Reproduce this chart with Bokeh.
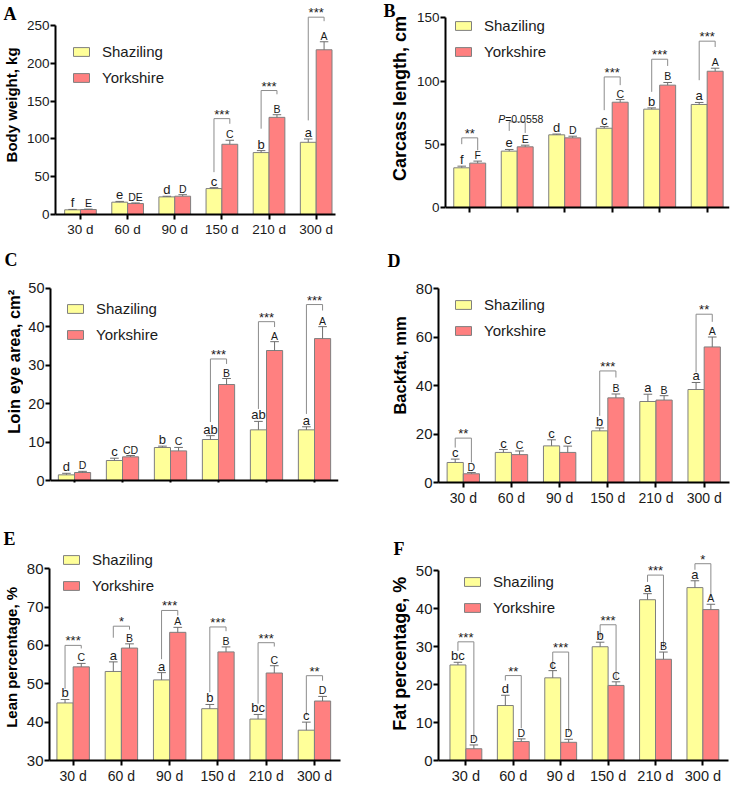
import numpy as np
from bokeh.plotting import figure
from bokeh.models import ColumnDataSource, FixedTicker, Label, LabelSet, Legend, LegendItem
from bokeh.layouts import column, row
from bokeh.core.properties import value
from bokeh.embed import file_html
from bokeh.resources import INLINE

ages = ["30 d", "60 d", "90 d", "150 d", "210 d", "300 d"]
breeds = ["Shaziling", "Yorkshire"]

# ---------------- A: Body weight, kg ----------------
a_sz = [6.2, 16.3, 23.3, 34.3, 81.9, 95.5]
a_sz_err = [0.5, 1.0, 0.8, 1.2, 2.6, 4.4]
a_yk = [6.6, 14.5, 24.2, 92.9, 128.5, 217.9]
a_yk_err = [0.5, 0.8, 2.0, 5.3, 3.5, 10.6]
a_sz_let = ["f", "e", "d", "c", "b", "a"]
a_yk_let = ["E", "DE", "D", "C", "B", "A"]
a_sig_idx = [3, 4, 5]
a_sig_top = [126.8, 164.0, 261.0]
a_sig_left = [56.0, 113.5, 124.5]
a_sig_right = [120.0, 159.0, 255.7]
a_sig_txt = ["***", "***", "***"]
a_yticks = [0, 50, 100, 150, 200, 250]

# ---------------- B: Carcass length, cm ----------------
b_sz = [31.4, 44.6, 57.5, 62.7, 77.8, 81.5]
b_sz_err = [1.3, 1.3, 0.6, 1.3, 1.0, 1.6]
b_yk = [35.1, 48.0, 55.1, 83.3, 96.8, 107.8]
b_yk_err = [1.6, 1.3, 1.3, 2.1, 2.1, 2.4]
b_sz_let = ["f", "e", "d", "c", "b", "a"]
b_yk_let = ["F", "E", "D", "C", "B", "A"]
b_sig_idx = [0, 1, 3, 4, 5]
b_sig_top = [55.1, 67.8, 103.3, 117.3, 131.6]
b_sig_left = [50.1, 60.6, 77.0, 91.5, 100.7]
b_sig_right = [45.3, 59.0, 96.8, 112.0, 127.0]
b_sig_txt = ["**", "P=0.0558", "***", "***", "***"]
b_yticks = [0, 50, 100, 150]

# ---------------- C: Loin eye area, cm2 ----------------
c_sz = [1.47, 5.2, 8.58, 10.66, 13.17, 13.17]
c_sz_err = [0.4, 0.6, 0.35, 1.0, 2.2, 0.8]
c_yk = [2.08, 6.15, 7.7, 24.96, 33.8, 36.9]
c_yk_err = [0.3, 0.35, 0.9, 1.56, 2.3, 3.1]
c_sz_let = ["d", "c", "b", "ab", "ab", "a"]
c_yk_let = ["D", "CD", "C", "B", "A", "A"]
c_sig_idx = [3, 4, 5]
c_sig_top = [31.6, 41.3, 45.75]
c_sig_left = [15.2, 18.6, 17.3]
c_sig_right = [30.3, 39.9, 44.2]
c_sig_txt = ["***", "***", "***"]
c_yticks = [0, 10, 20, 30, 40, 50]

# ---------------- D: Backfat, mm ----------------
d_sz = [8.25, 12.4, 15.1, 21.3, 33.4, 38.35]
d_sz_err = [1.4, 1.2, 2.5, 1.2, 3.0, 2.9]
d_yk = [3.6, 11.5, 12.4, 34.9, 34.0, 55.9]
d_yk_err = [0.5, 1.5, 2.6, 1.6, 1.8, 4.1]
d_sz_let = ["c", "c", "c", "b", "a", "a"]
d_yk_let = ["D", "C", "C", "B", "B", "A"]
d_sig_idx = [0, 3, 5]
d_sig_top = [18.3, 46.0, 69.4]
d_sig_left = [14.4, 27.5, 45.4]
d_sig_right = [8.25, 43.3, 66.25]
d_sig_txt = ["**", "***", "**"]
d_yticks = [0, 20, 40, 60, 80]

# ---------------- E: Lean percentage, % ----------------
e_sz = [45.0, 53.2, 51.0, 43.5, 40.8, 37.9]
e_sz_err = [0.9, 2.5, 1.9, 1.1, 1.2, 2.1]
e_yk = [54.4, 59.3, 63.4, 58.3, 52.8, 45.5]
e_yk_err = [0.9, 1.1, 1.3, 1.3, 1.9, 1.2]
e_sz_let = ["b", "a", "a", "b", "bc", "c"]
e_yk_let = ["C", "B", "A", "B", "C", "D"]
e_sig_idx = [0, 1, 2, 3, 4, 5]
e_sig_top = [60.0, 65.0, 69.1, 64.8, 60.7, 52.1]
e_sig_left = [48.7, 62.0, 56.4, 47.8, 44.8, 41.8]
e_sig_right = [59.2, 64.1, 67.8, 63.7, 59.7, 50.8]
e_sig_txt = ["***", "*", "***", "***", "***", "**"]
e_yticks = [30, 40, 50, 60, 70, 80]

# ---------------- F: Fat percentage, % ----------------
f_sz = [25.2, 14.5, 21.8, 30.0, 42.4, 45.6]
f_sz_err = [0.7, 2.7, 1.9, 1.2, 1.6, 1.8]
f_yk = [3.1, 5.0, 4.8, 19.8, 26.7, 39.8]
f_yk_err = [1.0, 0.7, 0.8, 0.95, 1.9, 1.4]
f_sz_let = ["bc", "d", "c", "b", "a", "a"]
f_yk_let = ["D", "D", "D", "C", "B", "A"]
f_sig_idx = [0, 1, 2, 3, 4, 5]
f_sig_top = [31.3, 22.4, 28.6, 35.8, 48.9, 51.9]
f_sig_left = [28.9, 21.1, 24.1, 32.4, 47.1, 50.3]
f_sig_right = [5.5, 8.5, 7.5, 21.5, 29.8, 42.8]
f_sig_txt = ["***", "**", "***", "***", "***", "*"]
f_yticks = [0, 10, 20, 30, 40, 50]

SZ_FILL = "#FFFF99"
YK_FILL = "#FF8080"
EDGE = "#7F7F7F"
ERR = "#6E6E6E"
BRK = "#8C8C8C"
TXT = "#1A1A1A"
FONT = "Liberation Sans"
SERIF = "Liberation Serif"
HALF = 0.168
BW = 0.336
CAP = 0.09


def make_side(d, S):
    """Narrow strip left of a panel holding the panel letter and the y-axis title."""
    W, H = S["W"], S["H"]
    s = figure(width=W, height=H, x_range=(0, W), y_range=(0, H), output_backend="svg",
               toolbar_location=None, title=None, min_border=0,
               x_axis_location=None, y_axis_location=None)
    s.outline_line_color = None
    s.xgrid.visible = False
    s.ygrid.visible = False
    s.text(x=[S["tx"]], y=[H - S["ty"]], text=[d["title"]], angle=np.pi / 2,
           text_align="center", text_baseline="middle", text_font=value(FONT),
           text_font_style="bold", text_font_size=value(S["tfs"]), text_color="black")
    s.text(x=[S["px"]], y=[H - S["py"]], text=[d["letter"]], text_align="left",
           text_baseline="middle", text_font=value(SERIF), text_font_style="bold",
           text_font_size=value("18px"), text_color="black")
    return s


def make_panel(d, L):
    ox, oy, W, H = L["ox"], L["oy"], L["W"], L["H"]
    bl, br, bb = L["bl"], L["br"], L["bb"]
    drop = L.get("drop", 0)          # px between the x axis and the frame bottom
    x0, x1 = L["xr"]
    base, ppu = L["y0"], L["ppu"]
    ys = base - drop / ppu
    y1 = ys + (H - bb) / ppu

    p = figure(width=W, height=H, x_range=(x0, x1), y_range=(ys, y1),
               output_backend="svg", toolbar_location=None, title=None,
               min_border=0, min_border_left=bl, min_border_right=br,
               min_border_bottom=bb, min_border_top=0)
    p.outline_line_color = None
    p.xgrid.visible = False
    p.ygrid.visible = False

    xs = np.arange(len(ages), dtype=float)
    sz = np.array(d["sz"]); sze = np.array(d["sz_err"])
    yk = np.array(d["yk"]); yke = np.array(d["yk_err"])
    s_src = ColumnDataSource(dict(x=xs - HALF, top=sz, etop=sz + sze,
                                  c0=xs - HALF - CAP, c1=xs - HALF + CAP, let=d["sz_let"]))
    y_src = ColumnDataSource(dict(x=xs + HALF, top=yk, etop=yk + yke,
                                  c0=xs + HALF - CAP, c1=xs + HALF + CAP, let=d["yk_let"]))

    r_s = p.vbar(x="x", top="top", bottom=base, width=BW, source=s_src,
                 fill_color=SZ_FILL, line_color=EDGE, line_width=1)
    r_y = p.vbar(x="x", top="top", bottom=base, width=BW, source=y_src,
                 fill_color=YK_FILL, line_color=EDGE, line_width=1)
    for src in (s_src, y_src):
        p.segment(x0="x", y0="top", x1="x", y1="etop", source=src, line_color=ERR, line_width=1)
        p.segment(x0="c0", y0="etop", x1="c1", y1="etop", source=src, line_color=ERR, line_width=1)

    # significance brackets
    idx = np.array(d["sig_idx"], dtype=float)
    bxs = [[i - HALF, i - HALF, i + HALF, i + HALF] for i in idx]
    bys = [[lb, t, t, rb] for lb, t, rb in zip(d["sig_left"], d["sig_top"], d["sig_right"])]
    p.multi_line(xs=bxs, ys=bys, line_color=BRK, line_width=1)

    star_x, star_y, star_t = [], [], []
    for i, t, txt in zip(idx, d["sig_top"], d["sig_txt"]):
        if txt.startswith("P="):
            p.add_layout(Label(x=i, y=t, x_offset=-12, y_offset=3, text="P", text_align="right",
                               text_baseline="alphabetic", text_font=FONT, text_font_style="italic",
                               text_font_size="10.5px", text_color=TXT))
            p.add_layout(Label(x=i, y=t, x_offset=-12, y_offset=3, text=txt[1:], text_align="left",
                               text_baseline="alphabetic", text_font=FONT,
                               text_font_size="10.5px", text_color=TXT))
        else:
            star_x.append(i); star_y.append(t); star_t.append(txt)
    st_src = ColumnDataSource(dict(x=star_x, y=star_y, t=star_t))
    p.add_layout(LabelSet(x="x", y="y", text="t", source=st_src, text_align="center",
                          text_baseline="alphabetic", y_offset=0, text_font=value(FONT),
                          text_font_size=value("13px"), text_color=TXT))

    # group letters
    p.add_layout(LabelSet(x="x", y="etop", text="let", source=s_src, text_align="center",
                          text_baseline="alphabetic", y_offset=2, text_font=value(FONT),
                          text_font_size=value("13px"), text_color=TXT))
    p.add_layout(LabelSet(x="x", y="etop", text="let", source=y_src, text_align="center",
                          text_baseline="alphabetic", y_offset=2, text_font=value(FONT),
                          text_font_size=value("10.5px"), text_color=TXT))

    # axes
    for ax in (p.xaxis[0], p.yaxis[0]):
        ax.axis_line_width = 2
        ax.axis_line_color = "black"
        ax.major_tick_line_width = 2
        ax.major_tick_line_color = "black"
        ax.major_tick_out = 5
        ax.major_tick_in = 0
        ax.minor_tick_line_color = None
        ax.major_label_text_font = FONT
        ax.major_label_text_color = TXT
    p.xaxis.ticker = FixedTicker(ticks=list(range(len(ages))))
    p.xaxis.major_label_overrides = {i: a for i, a in enumerate(ages)}
    p.xaxis.major_label_standoff = 2
    p.xaxis.major_label_text_font_size = L["xfs"]
    if drop > 0:
        p.xaxis.fixed_location = base
    p.yaxis.ticker = FixedTicker(ticks=d["yticks"])
    p.yaxis.bounds = (d["yticks"][0], d["yticks"][-1])
    p.yaxis.major_label_standoff = 1
    p.yaxis.major_label_text_font_size = L["yfs"]

    # legend
    fb = oy + H - bb  # frame bottom on the page
    legend = Legend(items=[LegendItem(label=breeds[0], renderers=[r_s]),
                           LegendItem(label=breeds[1], renderers=[r_y])],
                    location=(L["lgx"] - ox - bl, fb - (L["lgy"] - 10 + 46)),
                    orientation="vertical", glyph_width=20, glyph_height=11,
                    label_standoff=11, spacing=6, label_height=20, padding=0, margin=0,
                    border_line_color=None, background_fill_alpha=0,
                    label_text_font=FONT, label_text_font_size="15px", label_text_color=TXT)
    p.add_layout(legend)
    return p


def pack(letter, title, sz, sz_err, yk, yk_err, sz_let, yk_let, sig_idx, sig_top,
         sig_left, sig_right, sig_txt, yticks):
    return dict(letter=letter, title=title, sz=sz, sz_err=sz_err, yk=yk, yk_err=yk_err,
                sz_let=sz_let, yk_let=yk_let, sig_idx=sig_idx, sig_top=sig_top,
                sig_left=sig_left, sig_right=sig_right, sig_txt=sig_txt, yticks=yticks)


DA = pack("A", "Body weight, kg", a_sz, a_sz_err, a_yk, a_yk_err, a_sz_let, a_yk_let,
          a_sig_idx, a_sig_top, a_sig_left, a_sig_right, a_sig_txt, a_yticks)
DB = pack("B", "Carcass length, cm", b_sz, b_sz_err, b_yk, b_yk_err, b_sz_let, b_yk_let,
          b_sig_idx, b_sig_top, b_sig_left, b_sig_right, b_sig_txt, b_yticks)
DC = pack("C", "Loin eye area, cm\u00b2", c_sz, c_sz_err, c_yk, c_yk_err, c_sz_let, c_yk_let,
          c_sig_idx, c_sig_top, c_sig_left, c_sig_right, c_sig_txt, c_yticks)
DD = pack("D", "Backfat, mm", d_sz, d_sz_err, d_yk, d_yk_err, d_sz_let, d_yk_let,
          d_sig_idx, d_sig_top, d_sig_left, d_sig_right, d_sig_txt, d_yticks)
DE = pack("E", "Lean percentage, %", e_sz, e_sz_err, e_yk, e_yk_err, e_sz_let, e_yk_let,
          e_sig_idx, e_sig_top, e_sig_left, e_sig_right, e_sig_txt, e_yticks)
DF = pack("F", "Fat percentage, %", f_sz, f_sz_err, f_yk, f_yk_err, f_sz_let, f_yk_let,
          f_sig_idx, f_sig_top, f_sig_left, f_sig_right, f_sig_txt, f_yticks)

# main panels (page pixel geometry); panels in one row share the frame bottom
LA = dict(ox=23, oy=0, W=343, H=248, bl=29, br=31, bb=34, xr=(-0.53, 5.41), y0=0, ppu=0.756,
          xfs="13.5px", yfs="13.5px", lgx=68, lgy=51)
LB = dict(ox=412, oy=0, W=321, H=248, bl=33, br=4, bb=34, drop=7, xr=(-0.51, 5.47), y0=0,
          ppu=1.264, xfs="13.5px", yfs="13.5px", lgx=453, lgy=25)
LC = dict(ox=23, oy=248, W=343, H=276, bl=27, br=28, bb=42, drop=2, xr=(-0.5, 5.5), y0=0,
          ppu=3.846, xfs="14px", yfs="14.5px", lgx=65, lgy=308.7)
LD = dict(ox=412, oy=248, W=321, H=276, bl=24, br=4, bb=42, xr=(-0.515, 5.526), y0=0, ppu=2.425,
          xfs="14px", yfs="15px", lgx=451, lgy=304.7)
LE = dict(ox=23, oy=524, W=343, H=262, bl=25, br=26, bb=23, xr=(-0.49, 5.54), y0=30, ppu=3.886,
          xfs="14px", yfs="15px", lgx=60, lgy=562.3)
LF = dict(ox=412, oy=524, W=321, H=262, bl=23, br=5, bb=23, xr=(-0.578, 5.54), y0=0, ppu=3.84,
          xfs="14.5px", yfs="15px", lgx=459, lgy=584.7)

# side strips: (tx, ty) = visual centre of the rotated title, (px, py) = left / centre of letter
SA = dict(W=23, H=248, tx=10.9, ty=121, tfs="15px", px=3, py=15.5)
SB = dict(W=46, H=248, tx=33, ty=113.5, tfs="18px", px=17, py=12.5)
SC = dict(W=23, H=276, tx=13.4, ty=381.6 - 248, tfs="16.5px", px=4, py=262 - 248)
SD = dict(W=46, H=276, tx=33, ty=386 - 248, tfs="16.5px", px=21, py=263 - 248)
SE = dict(W=23, H=262, tx=10.6, ty=671.5 - 524, tfs="15px", px=3, py=540 - 524)
SF = dict(W=46, H=262, tx=33.3, ty=667.5 - 524, tfs="18px", px=27, py=551.5 - 524)

layout = column(
    row(make_side(DA, SA), make_panel(DA, LA), make_side(DB, SB), make_panel(DB, LB), spacing=0),
    row(make_side(DC, SC), make_panel(DC, LC), make_side(DD, SD), make_panel(DD, LD), spacing=0),
    row(make_side(DE, SE), make_panel(DE, LE), make_side(DF, SF), make_panel(DF, LF), spacing=0),
    spacing=0)

with open("out.html", "w") as fh:
    fh.write(file_html(layout, INLINE))
